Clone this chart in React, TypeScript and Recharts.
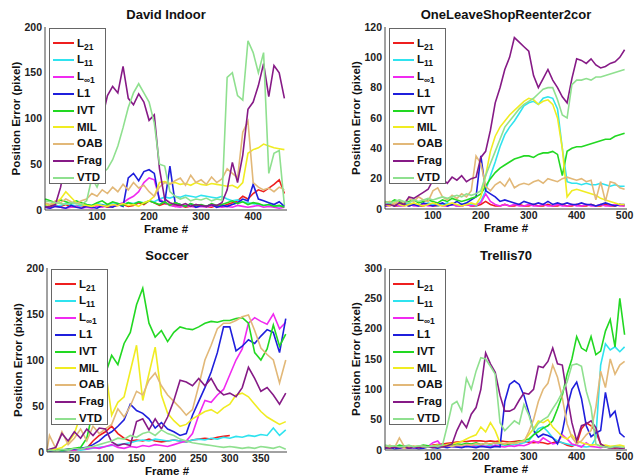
import { LineChart, Line, XAxis, YAxis, Legend } from 'recharts';

const FONT = '"Liberation Sans", Arial, Helvetica, sans-serif';

// legend order = draw order
const SERIES = [
  { key: 'L21', name: 'L', sub: '21', color: '#ee1f1f' },
  { key: 'L11', name: 'L', sub: '11', color: '#2fe3ef' },
  { key: 'Linf1', name: 'L', sub: '\u221e1', color: '#f02af0' },
  { key: 'L1', name: 'L1', sub: '', color: '#1f1fdc' },
  { key: 'IVT', name: 'IVT', sub: '', color: '#22d822' },
  { key: 'MIL', name: 'MIL', sub: '', color: '#f0ec22' },
  { key: 'OAB', name: 'OAB', sub: '', color: '#e2b878' },
  { key: 'Frag', name: 'Frag', sub: '', color: '#861a86' },
  { key: 'VTD', name: 'VTD', sub: '', color: '#8fe08f' },
];

// ---- David Indoor ----
const davidFrames = [0, 10, 20, 30, 40, 50, 60, 70, 80, 90, 100, 110, 120, 130, 140, 150, 160, 170, 180, 190, 200, 210, 220, 230, 240, 250, 260, 270, 280, 290, 300, 310, 320, 330, 340, 350, 360, 370, 380, 390, 400, 410, 420, 430, 440, 450, 460];
const davidL21 = [4, 3, 5, 4, 6, 3, 4, 5, 3, 4, 6, 5, 3, 4, 5, 6, 4, 5, 8, 6, 10, 8, 5, 7, 6, 4, 5, 3, 4, 6, 5, 4, 3, 5, 4, 6, 8, 10, 15, 12, 18, 22, 20, 24, 28, 33, 18];
const davidL11 = [5, 6, 4, 5, 7, 6, 4, 5, 6, 5, 7, 6, 5, 8, 7, 6, 8, 7, 9, 8, 10, 9, 12, 14, 13, 15, 14, 16, 15, 14, 16, 15, 14, 13, 15, 12, 10, 11, 9, 8, 7, 6, 5, 6, 5, 4, 5];
const davidLinf1 = [3, 2, 4, 3, 2, 3, 4, 2, 3, 2, 4, 3, 5, 4, 6, 8, 12, 15, 20, 30, 35, 33, 12, 8, 5, 4, 3, 5, 4, 3, 4, 3, 5, 4, 3, 4, 3, 5, 4, 3, 4, 5, 3, 4, 3, 2, 3];
const davidL1 = [3, 2, 4, 3, 2, 5, 3, 2, 4, 3, 2, 5, 4, 3, 6, 4, 35, 40, 32, 42, 44, 40, 10, 8, 48, 8, 6, 4, 7, 3, 5, 4, 6, 3, 5, 4, 6, 8, 12, 10, 28, 12, 10, 8, 6, 9, 4];
const davidIVT = [12, 10, 8, 11, 9, 7, 10, 8, 6, 5, 8, 10, 6, 9, 7, 5, 8, 6, 9, 7, 10, 8, 6, 9, 5, 8, 6, 4, 7, 5, 6, 4, 7, 5, 6, 8, 10, 7, 9, 6, 8, 7, 5, 6, 4, 5, 3];
const davidMIL = [6, 5, 8, 12, 20, 14, 8, 6, 5, 4, 6, 5, 4, 6, 5, 7, 5, 6, 4, 8, 10, 15, 30, 31, 29, 30, 28, 29, 27, 30, 28, 27, 29, 28, 27, 26, 27, 24, 30, 62, 66, 68, 72, 70, 68, 67, 66];
const davidOAB = [8, 6, 10, 8, 12, 9, 7, 10, 12, 18, 15, 22, 18, 25, 20, 28, 22, 30, 24, 27, 20, 15, 25, 30, 28, 32, 35, 27, 38, 30, 33, 28, 36, 30, 34, 45, 40, 35, 85, 97, 30, 25, 22, 24, 20, 25, 22];
const davidFrag = [3, 4, 6, 25, 55, 80, 100, 115, 120, 110, 105, 100, 125, 135, 128, 157, 122, 115, 127, 118, 98, 104, 45, 12, 8, 6, 5, 7, 4, 6, 5, 4, 6, 5, 8, 22, 52, 30, 60, 110, 118, 136, 160, 124, 158, 150, 122];
const davidVTD = [10, 9, 8, 7, 6, 8, 7, 6, 10, 35, 25, 40, 45, 55, 70, 90, 112, 128, 138, 128, 118, 95, 50, 48, 20, 15, 12, 14, 10, 12, 11, 13, 10, 12, 11, 145, 150, 125, 120, 185, 172, 150, 172, 40, 62, 65, 5];

// ---- OneLeaveShopReenter2cor ----
const shopFrames = [0, 10, 20, 30, 40, 50, 60, 70, 80, 90, 100, 110, 120, 130, 140, 150, 160, 170, 180, 190, 200, 210, 220, 230, 240, 250, 260, 270, 280, 290, 300, 310, 320, 330, 340, 350, 360, 370, 380, 390, 400, 410, 420, 430, 440, 450, 460, 470, 480, 490, 500];
const shopL21 = [2, 3, 2, 2, 3, 2, 3, 2, 2, 3, 2, 2, 3, 2, 3, 2, 2, 3, 2, 2, 3, 5, 3, 2, 2, 3, 2, 2, 3, 2, 2, 3, 2, 2, 3, 2, 2, 3, 2, 2, 3, 2, 2, 3, 2, 2, 3, 2, 2, 3, 2];
const shopL11 = [3, 4, 3, 2, 3, 4, 3, 2, 3, 4, 3, 2, 3, 4, 3, 2, 3, 4, 3, 2, 5, 12, 22, 31, 41, 49, 54, 58, 63, 68, 70, 71, 69, 73, 74, 73, 66, 40, 18, 17, 17, 16, 17, 16, 16, 17, 16, 15, 16, 15, 15];
const shopLinf1 = [2, 2, 3, 2, 2, 3, 2, 2, 3, 2, 2, 3, 2, 2, 3, 2, 2, 3, 2, 3, 4, 10, 5, 3, 2, 3, 2, 3, 2, 2, 3, 2, 2, 3, 2, 2, 3, 2, 2, 3, 2, 2, 3, 2, 2, 3, 2, 2, 3, 2, 2];
const shopL1 = [2, 3, 2, 4, 3, 2, 3, 2, 4, 3, 2, 3, 4, 2, 3, 5, 3, 4, 6, 8, 35, 12, 10, 8, 5, 6, 5, 4, 3, 5, 4, 3, 4, 3, 5, 3, 4, 3, 4, 3, 3, 4, 3, 3, 2, 3, 4, 3, 2, 3, 3];
const shopIVT = [5, 4, 6, 5, 4, 5, 6, 4, 5, 6, 5, 4, 6, 5, 7, 6, 5, 6, 7, 8, 10, 15, 20, 24, 27, 29, 31, 33, 34, 35, 35, 34, 36, 37, 37, 38, 36, 22, 38, 40, 41, 41, 42, 43, 44, 45, 46, 46, 48, 49, 50];
const shopMIL = [3, 2, 4, 3, 2, 3, 4, 3, 2, 3, 4, 3, 2, 3, 4, 3, 2, 3, 4, 3, 8, 22, 38, 48, 54, 58, 62, 65, 68, 71, 73, 72, 69, 71, 72, 69, 60, 40, 8, 12, 13, 12, 11, 10, 9, 7, 6, 5, 4, 3, 3];
const shopOAB = [4, 5, 3, 6, 4, 7, 5, 8, 6, 5, 12, 14, 8, 6, 9, 7, 10, 8, 12, 35, 30, 15, 12, 16, 18, 15, 20, 14, 16, 17, 16, 18, 19, 17, 20, 19, 18, 20, 21, 20, 19, 20, 18, 19, 6, 18, 5, 18, 17, 14, 13];
const shopFrag = [3, 3, 2, 4, 3, 8, 7, 9, 11, 13, 19, 18, 20, 17, 21, 19, 22, 18, 20, 21, 34, 38, 52, 70, 80, 92, 100, 113, 110, 107, 104, 88, 80, 86, 92, 85, 80, 74, 70, 86, 99, 98, 96, 99, 95, 93, 94, 96, 97, 100, 105];
const shopVTD = [5, 4, 5, 6, 5, 4, 6, 5, 6, 7, 6, 7, 8, 7, 8, 9, 8, 10, 9, 10, 12, 22, 30, 38, 46, 54, 58, 62, 66, 69, 71, 73, 76, 79, 80, 80, 72, 62, 60, 82, 85, 85, 86, 85, 87, 87, 88, 89, 90, 91, 92];

// ---- Soccer ----
const soccerFrames = [6, 10, 20, 30, 40, 50, 60, 70, 80, 90, 100, 110, 120, 130, 140, 150, 160, 170, 180, 190, 200, 210, 220, 230, 240, 250, 260, 270, 280, 290, 300, 310, 320, 330, 340, 350, 360, 370, 380, 390];
const soccerL21 = [1, 1, 2, 1, 2, 2, 3, 4, 12, 18, 22, 28, 20, 15, 12, 13, 12, 14, 12, 11, 12, 13, 12, 11, 13, 14, 15, 14, 16, 17, 18, null, null, null, null, null, null, null, null, null];
const soccerL11 = [1, 1, 2, 1, 2, 3, 2, 3, 4, 5, 6, 7, 8, 9, 10, 12, 13, 12, 14, 13, 12, 13, 12, 11, 13, 14, 13, 15, 14, 16, 15, 17, 16, 18, 17, 19, 18, 26, 18, 24];
const soccerLinf1 = [1, 1, 2, 2, 3, 2, 4, 3, 5, 4, 6, 8, 5, 4, 6, 5, 7, 6, 8, 7, 6, 8, 10, 12, 20, 40, 56, 54, 62, 68, 84, 100, 112, 140, 146, 142, 139, 150, 134, 141];
const soccerL1 = [1, 1, 2, 2, 3, 3, 4, 5, 8, 12, 18, 22, 28, 35, 52, 45, 42, 36, 26, 32, 25, 22, 18, 20, 40, 55, 70, 87, 108, 136, 136, 110, 115, 122, 118, 126, 133, 130, 108, 145];
const soccerIVT = [2, 2, 3, 2, 3, 4, 5, 15, 45, 70, 85, 105, 95, 118, 130, 160, 178, 140, 125, 132, 120, 130, 136, 134, 133, 136, 140, 142, 141, 143, 143, 145, 146, 140, 108, 100, 112, 138, 115, 128];
const soccerMIL = [1, 2, 3, 5, 10, 20, 40, 60, 75, 80, 90, 40, 54, 60, 88, 116, 56, 85, 114, 62, 42, 34, 28, 30, 36, 40, 44, 46, 42, 48, 52, 62, 64, 60, 52, 44, 38, 34, 30, 33];
const soccerOAB = [2, 18, 4, 22, 8, 15, 25, 12, 28, 20, 25, 30, 47, 38, 50, 66, 62, 78, 86, 72, 62, 55, 48, 40, 46, 72, 100, 116, 134, 140, 140, 143, 147, 149, 132, 113, 106, 100, 75, 100];
const soccerFrag = [2, 3, 5, 20, 12, 22, 15, 25, 18, 26, 25, 11, 7, 9, 7, 33, 36, 24, 36, 25, 38, 56, 78, 76, 72, 80, 72, 80, 68, 62, 64, 60, 70, 92, 80, 66, 70, 62, 52, 64];
const soccerVTD = [1, 2, 1, 3, 2, 4, 3, 5, 6, 8, 10, 12, 15, 14, 18, 16, 20, 22, 18, 24, 20, 18, 14, 12, 10, 9, 8, 7, 6, 5, 6, 5, 4, 5, 4, 6, 5, 4, 6, 3];

// ---- Trellis70 ----
const trellisFrames = [0, 10, 20, 30, 40, 50, 60, 70, 80, 90, 100, 110, 120, 130, 140, 150, 160, 170, 180, 190, 200, 210, 220, 230, 240, 250, 260, 270, 280, 290, 300, 310, 320, 330, 340, 350, 360, 370, 380, 390, 400, 410, 420, 430, 440, 450, 460, 470, 480, 490, 500];
const trellisL21 = [3, 4, 3, 5, 4, 3, 5, 4, 6, 5, 8, 9, 10, 11, 12, 13, 14, 14, 15, 15, 15, 14, 15, 14, 15, 14, 13, 14, 15, 14, 13, 12, 13, 12, 10, 12, 14, 12, 8, 6, 10, 35, 45, 40, 30, 10, 5, 4, 3, 4, 3];
const trellisL11 = [4, 5, 3, 4, 6, 4, 5, 3, 4, 6, 5, 4, 6, 5, 7, 6, 5, 7, 6, 8, 7, 6, 8, 7, 9, 8, 7, 9, 10, 12, 15, 25, 35, 38, 30, 20, 15, 12, 10, 8, 8, 6, 5, 6, 20, 140, 175, 165, 170, 162, 170];
const trellisLinf1 = [3, 4, 5, 3, 4, 6, 3, 5, 4, 6, 12, 15, 5, 8, 6, 5, 7, 6, 8, 5, 7, 6, 5, 8, 6, 5, 7, 6, 8, 7, 10, 15, 12, 20, 15, 10, 12, 25, 18, 10, 8, 5, 12, 6, 5, 4, 6, 3, 5, 4, 3];
const trellisL1 = [3, 4, 2, 3, 5, 3, 4, 2, 3, 5, 4, 3, 5, 4, 6, 5, 4, 6, 5, 4, 6, 5, 4, 6, 5, 80, 108, 114, 108, 90, 62, 32, 21, 26, 24, 20, 10, 30, 70, 100, 112, 85, 40, 22, 28, 32, 95, 55, 64, 28, 21];
const trellisIVT = [6, 7, 5, 8, 6, 7, 5, 6, 8, 7, 6, 8, 7, 9, 8, 10, 9, 11, 10, 12, 9, 11, 10, 12, 11, 9, 10, 12, 14, 16, 18, 25, 30, 36, 40, 48, 68, 90, 125, 150, 187, 168, 163, 187, 157, 163, 196, 215, 170, 250, 190];
const trellisMIL = [5, 4, 6, 5, 4, 6, 5, 7, 6, 5, 7, 8, 6, 9, 10, 12, 14, 18, 22, 25, 38, 30, 45, 32, 12, 10, 12, 11, 13, 15, 25, 35, 48, 45, 50, 38, 30, 22, 18, 25, 15, 12, 10, 8, 9, 7, 8, 6, 7, 8, 6];
const trellisOAB = [5, 8, 4, 20, 6, 5, 7, 4, 6, 5, 7, 6, 5, 7, 6, 8, 7, 9, 8, 10, 9, 11, 10, 12, 11, 10, 12, 11, 13, 14, 30, 50, 80, 100, 110, 140, 120, 86, 43, 21, 10, 15, 25, 32, 70, 130, 103, 150, 125, 140, 146];
const trellisFrag = [4, 3, 5, 4, 6, 3, 5, 4, 6, 5, 4, 6, 5, 7, 10, 32, 48, 37, 59, 70, 100, 160, 142, 128, 90, 64, 64, 68, 82, 94, 92, 100, 138, 136, 146, 168, 142, 140, 90, 45, 15, 40, 43, 48, 37, 10, 5, 3, 4, 3, 3];
const trellisVTD = [8, 6, 7, 5, 6, 8, 5, 7, 6, 5, 7, 6, 8, 40, 75, 80, 64, 118, 100, 130, 152, 150, 138, 125, 45, 32, 40, 48, 43, 75, 58, 32, 44, 50, 55, 68, 80, 95, 112, 140, 142, 138, 97, 70, 10, 6, 5, 4, 6, 5, 4];

type Plot = { left: number; right: number; top: number; bottom: number };

type PanelProps = {
  title: string;
  x: number;
  y: number;
  frames: number[];
  series: Record<string, (number | null)[]>;
  xDomain: [number, number];
  xTicks: number[];
  yDomain: [number, number];
  yTicks: number[];
  plot: Plot;
};

const W = 317;
const H = 238;
const Y_AXIS_W = 40;
const X_AXIS_H = 25;

function LegendBox() {
  return (
    <div
      style={{
        background: '#fff',
        border: '1px solid #666',
        boxSizing: 'border-box',
        width: 57,
        height: 156,
        paddingTop: 6,
        fontFamily: FONT,
        fontWeight: 'bold',
        fontSize: 11.5,
        color: '#111',
      }}
    >
      {SERIES.map((s) => (
        <div key={s.key} style={{ display: 'flex', alignItems: 'center', height: 16.8 }}>
          <span style={{ display: 'inline-block', width: 21, height: 2, background: s.color, marginLeft: 3, marginRight: 3 }} />
          <span style={{ lineHeight: 1, whiteSpace: 'nowrap' }}>
            {s.name}
            {s.sub && <sub style={{ fontSize: 8.5, verticalAlign: '-3px', lineHeight: 0 }}>{s.sub}</sub>}
          </span>
        </div>
      ))}
    </div>
  );
}

function Panel({ title, x, y, frames, series, xDomain, xTicks, yDomain, yTicks, plot }: PanelProps) {
  const rows = frames.map((f, i) => {
    const row: Record<string, number | null> = { frame: f };
    SERIES.forEach((s) => {
      row[s.key] = series[s.key][i];
    });
    return row;
  });
  const cx = (plot.left + plot.right) / 2;
  const cy = (plot.top + plot.bottom) / 2;
  const tick = { fontSize: 10.5, fontWeight: 'bold', fill: '#222', fontFamily: FONT };

  return (
    <div style={{ position: 'absolute', left: x, top: y, width: W, height: H }}>
      <div
        style={{
          position: 'absolute',
          left: cx - 150,
          width: 300,
          top: 7,
          textAlign: 'center',
          fontFamily: FONT,
          fontWeight: 'bold',
          fontSize: 13,
          lineHeight: '16px',
          color: '#111',
        }}
      >
        {title}
      </div>
      <LineChart
        width={W}
        height={H}
        data={rows}
        margin={{ top: plot.top, right: W - plot.right, left: plot.left - Y_AXIS_W, bottom: H - plot.bottom - X_AXIS_H }}
      >
        <XAxis
          dataKey="frame"
          type="number"
          domain={xDomain}
          ticks={xTicks}
          interval={0}
          height={X_AXIS_H}
          tickLine={false}
          tickSize={0}
          tickMargin={3}
          stroke="#444"
          tick={tick}
          label={{
            value: 'Frame #',
            content: () => (
              <text x={cx} y={plot.bottom + 19} textAnchor="middle" dominantBaseline="central" fontFamily={FONT} fontWeight="bold" fontSize={11.5} fill="#111">
                Frame #
              </text>
            ),
          }}
        />
        <YAxis
          type="number"
          domain={yDomain}
          ticks={yTicks}
          interval={0}
          width={Y_AXIS_W}
          allowDataOverflow
          tickLine={false}
          tickSize={0}
          tickMargin={3}
          stroke="#444"
          tick={tick}
          label={{
            value: 'Position Error (pixel)',
            content: () => (
              <text
                x={plot.left - 29}
                y={cy}
                transform={`rotate(-90, ${plot.left - 29}, ${cy})`}
                textAnchor="middle"
                dominantBaseline="central"
                fontFamily={FONT}
                fontWeight="bold"
                fontSize={11.5}
                fill="#111"
              >
                Position Error (pixel)
              </text>
            ),
          }}
        />
        {SERIES.map((s) => (
          <Line
            key={s.key}
            dataKey={s.key}
            type="linear"
            stroke={s.color}
            strokeWidth={1.6}
            dot={false}
            activeDot={false}
            isAnimationActive={false}
          />
        ))}
        <Legend
          layout="vertical"
          align="center"
          verticalAlign="middle"
          wrapperStyle={{ left: plot.left + 4, top: plot.top + 1, width: 57, height: 156 }}
          content={() => <LegendBox />}
        />
      </LineChart>
    </div>
  );
}

export default function App() {
  return (
    <div style={{ position: 'absolute', left: 0, top: 0, width: 634, height: 476, background: '#fff' }}>
      <Panel
        title="David Indoor"
        x={0}
        y={0}
        frames={davidFrames}
        series={{ L21: davidL21, L11: davidL11, Linf1: davidLinf1, L1: davidL1, IVT: davidIVT, MIL: davidMIL, OAB: davidOAB, Frag: davidFrag, VTD: davidVTD }}
        xDomain={[0, 465]}
        xTicks={[100, 200, 300, 400]}
        yDomain={[0, 200]}
        yTicks={[0, 50, 100, 150, 200]}
        plot={{ left: 45, right: 287, top: 27, bottom: 210 }}
      />
      <Panel
        title="OneLeaveShopReenter2cor"
        x={317}
        y={0}
        frames={shopFrames}
        series={{ L21: shopL21, L11: shopL11, Linf1: shopLinf1, L1: shopL1, IVT: shopIVT, MIL: shopMIL, OAB: shopOAB, Frag: shopFrag, VTD: shopVTD }}
        xDomain={[0, 505]}
        xTicks={[100, 200, 300, 400, 500]}
        yDomain={[0, 120]}
        yTicks={[0, 20, 40, 60, 80, 100, 120]}
        plot={{ left: 68, right: 310, top: 27, bottom: 209 }}
      />
      <Panel
        title="Soccer"
        x={0}
        y={241}
        frames={soccerFrames}
        series={{ L21: soccerL21, L11: soccerL11, Linf1: soccerLinf1, L1: soccerL1, IVT: soccerIVT, MIL: soccerMIL, OAB: soccerOAB, Frag: soccerFrag, VTD: soccerVTD }}
        xDomain={[6, 392]}
        xTicks={[50, 100, 150, 200, 250, 300, 350]}
        yDomain={[0, 200]}
        yTicks={[0, 50, 100, 150, 200]}
        plot={{ left: 47, right: 287, top: 27, bottom: 211 }}
      />
      <Panel
        title="Trellis70"
        x={317}
        y={241}
        frames={trellisFrames}
        series={{ L21: trellisL21, L11: trellisL11, Linf1: trellisLinf1, L1: trellisL1, IVT: trellisIVT, MIL: trellisMIL, OAB: trellisOAB, Frag: trellisFrag, VTD: trellisVTD }}
        xDomain={[0, 505]}
        xTicks={[100, 200, 300, 400, 500]}
        yDomain={[0, 300]}
        yTicks={[0, 50, 100, 150, 200, 250, 300]}
        plot={{ left: 68, right: 310, top: 27, bottom: 209 }}
      />
    </div>
  );
}
